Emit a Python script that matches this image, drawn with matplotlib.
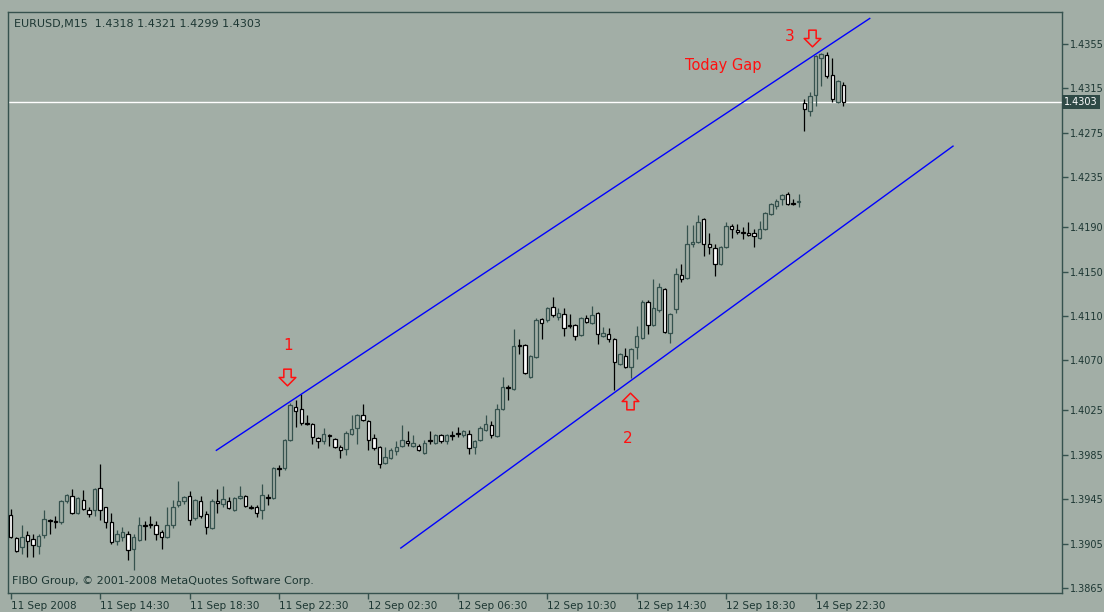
import matplotlib
matplotlib.use('Agg')
import matplotlib.pyplot as plt
import matplotlib.transforms as mtransforms
from matplotlib.patches import Rectangle
from matplotlib.path import Path

plt.rcParams['font.family'] = ['DejaVu Sans']

# EURUSD M15, one entry per bar (11 Sep 2008 10:30 ... 14 Sep 2008 23:45)
opens = [1.3931, 1.3910, 1.3902, 1.3913, 1.3909, 1.3903, 1.3913, 1.3926, 1.3925, 1.3924,
         1.3943, 1.3948, 1.3933, 1.3944, 1.3935, 1.3935, 1.3955, 1.3938, 1.3924, 1.3907,
         1.3911, 1.3914, 1.3900, 1.3908, 1.3922, 1.3923, 1.3922, 1.3915, 1.3911, 1.3922,
         1.3940, 1.3943, 1.3948, 1.3928, 1.3943, 1.3932, 1.3919, 1.3943, 1.3941, 1.3943,
         1.3935, 1.3946, 1.3948, 1.3938, 1.3938, 1.3935, 1.3947, 1.3946, 1.3973, 1.3973,
         1.3998, 1.4028, 1.4026, 1.4014, 1.4013, 1.4000, 1.3997, 1.4003, 1.3999, 1.3992,
         1.3990, 1.4004, 1.4009, 1.4021, 1.4015, 1.4000, 1.3992, 1.3978, 1.3982, 1.3988,
         1.3993, 1.3997, 1.3993, 1.3993, 1.3987, 1.3998, 1.3996, 1.4003, 1.3997, 1.4003,
         1.4005, 1.4003, 1.4004, 1.3992, 1.3998, 1.4007, 1.4012, 1.4002, 1.4026, 1.4046,
         1.4044, 1.4084, 1.4084, 1.4055, 1.4073, 1.4107, 1.4106, 1.4118, 1.4109, 1.4112,
         1.4102, 1.4102, 1.4093, 1.4108, 1.4104, 1.4113, 1.4092, 1.4094, 1.4089, 1.4067,
         1.4074, 1.4064, 1.4082, 1.4090, 1.4123, 1.4102, 1.4115, 1.4134, 1.4095, 1.4116,
         1.4147, 1.4144, 1.4175, 1.4177, 1.4197, 1.4175, 1.4171, 1.4157, 1.4172, 1.4191,
         1.4187, 1.4186, 1.4185, 1.4185, 1.4180, 1.4188, 1.4202, 1.4209, 1.4215, 1.4220,
         1.4212, 1.4213, 1.4302, 1.4295, 1.4309, 1.4342, 1.4345, 1.4327, 1.4303, 1.4318]
highs = [1.3936, 1.3911, 1.3922, 1.3916, 1.3914, 1.3914, 1.3935, 1.3927, 1.3930, 1.3944,
         1.3950, 1.3954, 1.3947, 1.3953, 1.3938, 1.3955, 1.3977, 1.3938, 1.3933, 1.3917,
         1.3920, 1.3916, 1.3914, 1.3929, 1.3925, 1.3930, 1.3925, 1.3917, 1.3938, 1.3944,
         1.3961, 1.3948, 1.3952, 1.3945, 1.3948, 1.3934, 1.3945, 1.3954, 1.3957, 1.3947,
         1.3947, 1.3957, 1.3949, 1.3940, 1.3940, 1.3959, 1.3950, 1.3974, 1.3976, 1.3999,
         1.4032, 1.4034, 1.4040, 1.4021, 1.4014, 1.4001, 1.4009, 1.4004, 1.4000, 1.3994,
         1.4006, 1.4021, 1.4022, 1.4031, 1.4016, 1.4004, 1.3993, 1.3992, 1.3991, 1.3997,
         1.4012, 1.4006, 1.4003, 1.3995, 1.3998, 1.4006, 1.4004, 1.4004, 1.4004, 1.4006,
         1.4010, 1.4007, 1.4007, 1.3998, 1.4011, 1.4021, 1.4015, 1.4031, 1.4055, 1.4048,
         1.4098, 1.4089, 1.4085, 1.4075, 1.4108, 1.4108, 1.4118, 1.4127, 1.4117, 1.4117,
         1.4112, 1.4103, 1.4109, 1.4111, 1.4119, 1.4114, 1.4100, 1.4099, 1.4090, 1.4077,
         1.4081, 1.4081, 1.4101, 1.4124, 1.4124, 1.4143, 1.4140, 1.4135, 1.4113, 1.4153,
         1.4157, 1.4192, 1.4192, 1.4201, 1.4198, 1.4185, 1.4175, 1.4173, 1.4195, 1.4193,
         1.4193, 1.4190, 1.4195, 1.4188, 1.4196, 1.4204, 1.4212, 1.4215, 1.4220, 1.4222,
         1.4215, 1.4220, 1.4305, 1.4312, 1.4345, 1.4347, 1.4348, 1.4342, 1.4323, 1.4321]
lows = [1.3910, 1.3897, 1.3896, 1.3893, 1.3893, 1.3896, 1.3910, 1.3914, 1.3919, 1.3923,
        1.3942, 1.3932, 1.3932, 1.3935, 1.3929, 1.3930, 1.3926, 1.3919, 1.3905, 1.3904,
        1.3907, 1.3890, 1.3881, 1.3907, 1.3908, 1.3919, 1.3908, 1.3900, 1.3910, 1.3919,
        1.3938, 1.3941, 1.3922, 1.3926, 1.3928, 1.3914, 1.3918, 1.3933, 1.3938, 1.3936,
        1.3934, 1.3945, 1.3938, 1.3936, 1.3929, 1.3927, 1.3940, 1.3945, 1.3966, 1.3971,
        1.3997, 1.4010, 1.4012, 1.4012, 1.3995, 1.3991, 1.3995, 1.3993, 1.3991, 1.3982,
        1.3985, 1.4003, 1.3995, 1.4015, 1.3989, 1.3989, 1.3973, 1.3977, 1.3981, 1.3985,
        1.3992, 1.3993, 1.3992, 1.3988, 1.3986, 1.3995, 1.3995, 1.3996, 1.3995, 1.3998,
        1.4001, 1.4001, 1.3986, 1.3986, 1.3997, 1.4006, 1.4000, 1.4001, 1.4025, 1.4034,
        1.4043, 1.4076, 1.4058, 1.4054, 1.4072, 1.4089, 1.4105, 1.4109, 1.4106, 1.4092,
        1.4099, 1.4088, 1.4092, 1.4104, 1.4103, 1.4085, 1.4091, 1.4087, 1.4043, 1.4066,
        1.4063, 1.4054, 1.4071, 1.4089, 1.4094, 1.4101, 1.4114, 1.4095, 1.4086, 1.4113,
        1.4141, 1.4143, 1.4172, 1.4176, 1.4164, 1.4166, 1.4146, 1.4156, 1.4171, 1.4180,
        1.4184, 1.4179, 1.4182, 1.4172, 1.4179, 1.4187, 1.4201, 1.4206, 1.4210, 1.4210,
        1.4210, 1.4208, 1.4277, 1.4290, 1.4299, 1.4317, 1.4324, 1.4303, 1.4302, 1.4299]
closes = [1.3911, 1.3898, 1.3911, 1.3907, 1.3904, 1.3912, 1.3927, 1.3925, 1.3924, 1.3943,
          1.3949, 1.3933, 1.3946, 1.3936, 1.3932, 1.3954, 1.3935, 1.3924, 1.3906, 1.3914,
          1.3915, 1.3899, 1.3911, 1.3922, 1.3921, 1.3922, 1.3914, 1.3911, 1.3922, 1.3938,
          1.3943, 1.3947, 1.3926, 1.3944, 1.3930, 1.3920, 1.3943, 1.3942, 1.3945, 1.3937,
          1.3946, 1.3948, 1.3939, 1.3937, 1.3933, 1.3949, 1.3946, 1.3973, 1.3972, 1.3998,
          1.4030, 1.4024, 1.4014, 1.4013, 1.4001, 1.3997, 1.4004, 1.4002, 1.3992, 1.3989,
          1.4005, 1.4008, 1.4021, 1.4016, 1.3998, 1.3991, 1.3977, 1.3983, 1.3989, 1.3992,
          1.3998, 1.3996, 1.3996, 1.3989, 1.3996, 1.3997, 1.4003, 1.3997, 1.4003, 1.4002,
          1.4004, 1.4006, 1.3991, 1.3997, 1.4009, 1.4013, 1.4003, 1.4026, 1.4046, 1.4045,
          1.4083, 1.4083, 1.4059, 1.4074, 1.4106, 1.4104, 1.4117, 1.4111, 1.4113, 1.4099,
          1.4101, 1.4092, 1.4108, 1.4105, 1.4111, 1.4094, 1.4095, 1.4089, 1.4069, 1.4076,
          1.4064, 1.4080, 1.4092, 1.4123, 1.4102, 1.4117, 1.4136, 1.4096, 1.4112, 1.4148,
          1.4143, 1.4175, 1.4177, 1.4195, 1.4175, 1.4172, 1.4157, 1.4172, 1.4191, 1.4188,
          1.4186, 1.4185, 1.4183, 1.4182, 1.4188, 1.4203, 1.4211, 1.4214, 1.4219, 1.4211,
          1.4211, 1.4214, 1.4296, 1.4308, 1.4344, 1.4346, 1.4326, 1.4305, 1.4322, 1.4303]

# axis labels
time_ticks = [0, 16, 32, 48, 64, 80, 96, 112, 128, 144]
time_labels = ['11 Sep 2008', '11 Sep 14:30', '11 Sep 18:30', '11 Sep 22:30', '12 Sep 02:30',
               '12 Sep 06:30', '12 Sep 10:30', '12 Sep 14:30', '12 Sep 18:30', '14 Sep 22:30']
price_ticks = [1.4355, 1.4315, 1.4275, 1.4235, 1.4190, 1.4150, 1.4110, 1.4070,
               1.4025, 1.3985, 1.3945, 1.3905, 1.3865]
last_price = 1.4303

# channel lines drawn by hand (bar, price)
upper_line = ([36.8, 153.7], [1.3989, 1.4378])
lower_line = ([69.8, 168.6], [1.3901, 1.4263])

# red arrows and labels (bar, price, direction)
arrow_marks = [(49.4, 1.4055, 'down'), (110.8, 1.4033, 'up'), (143.3, 1.4360, 'down')]
point_labels = [(49.6, 1.4083, '1'), (110.4, 1.4000, '2'), (139.4, 1.4362, '3')]
gap_note = (120.6, 1.4336, 'Today Gap')

bg = '#a2aea6'
slate = '#36524e'
txt = '#1d3733'
red = '#ff1010'

# hollow block arrow like the MT4 wingdings one
down_verts = [(-0.22, 0.5), (0.22, 0.5), (0.22, 0.0), (0.5, 0.0), (0.0, -0.5),
              (-0.5, 0.0), (-0.22, 0.0), (-0.22, 0.5)]
down_arrow = Path(down_verts, closed=True)
up_arrow = Path([(x, -y) for x, y in down_verts], closed=True)

fig = plt.figure(figsize=(11.04, 6.12), dpi=100, facecolor=bg)
ax = fig.add_axes([8 / 1104, 19 / 612, 1054 / 1104, 581 / 612], facecolor=bg)

# candles
body_w = 0.62
for i in range(len(opens)):
    o, h, l, c = opens[i], highs[i], lows[i], closes[i]
    bull = c > o
    col = slate if bull else 'black'
    ax.vlines(i, l, h, color=col, lw=0.9, zorder=2)
    ax.add_patch(Rectangle((i - body_w / 2, min(o, c)), body_w, abs(c - o),
                           facecolor=bg if bull else 'white', edgecolor=col, lw=0.9, zorder=3))

# current price line
ax.axhline(last_price, color='white', lw=1, zorder=1)

# channel
ax.plot(upper_line[0], upper_line[1], color='#0000ff', lw=1, zorder=4)
ax.plot(lower_line[0], lower_line[1], color='#0000ff', lw=1, zorder=4)

for x, y, d in arrow_marks:
    ax.plot([x], [y], marker=down_arrow if d == 'down' else up_arrow, ms=12,
            mfc='none', mec=red, mew=1.1, zorder=5)
for x, y, s in point_labels:
    ax.text(x, y, s, color=red, fontsize=11, ha='center', va='center', zorder=5)
ax.text(gap_note[0], gap_note[1], gap_note[2], color=red, fontsize=10.5,
        ha='left', va='center', zorder=5)

ax.set_xlim(-0.48, 188.1)
ax.set_ylim(1.38605, 1.43838)

for sp in ax.spines.values():
    sp.set_color(slate)
    sp.set_linewidth(1)

ax.yaxis.tick_right()
ax.set_yticks(price_ticks)
ax.set_yticklabels(['%.4f' % p for p in price_ticks], fontsize=7)
ax.set_xticks(time_ticks)
ax.set_xticklabels(time_labels, ha='left', fontsize=7.5)
ax.tick_params(axis='both', colors=slate, labelcolor=txt, length=4, width=1, pad=2)

# price tag for the last quote
tag_tr = mtransforms.blended_transform_factory(ax.transAxes, ax.transData)
ax.text(1.002, last_price, '%.4f' % last_price, transform=tag_tr, color='white', fontsize=7,
        ha='left', va='center', bbox=dict(boxstyle='square,pad=0.2', facecolor='#2f4a46', edgecolor='none'),
        clip_on=False)

ax.text(0.006, 0.979, 'EURUSD,M15  1.4318 1.4321 1.4299 1.4303', transform=ax.transAxes,
        color=txt, fontsize=8, ha='left', va='center')
ax.text(0.004, 0.02, 'FIBO Group, \u00a9 2001-2008 MetaQuotes Software Corp.', transform=ax.transAxes,
        color=txt, fontsize=8, ha='left', va='center')

fig.savefig('out.png', dpi=100, facecolor=bg)
